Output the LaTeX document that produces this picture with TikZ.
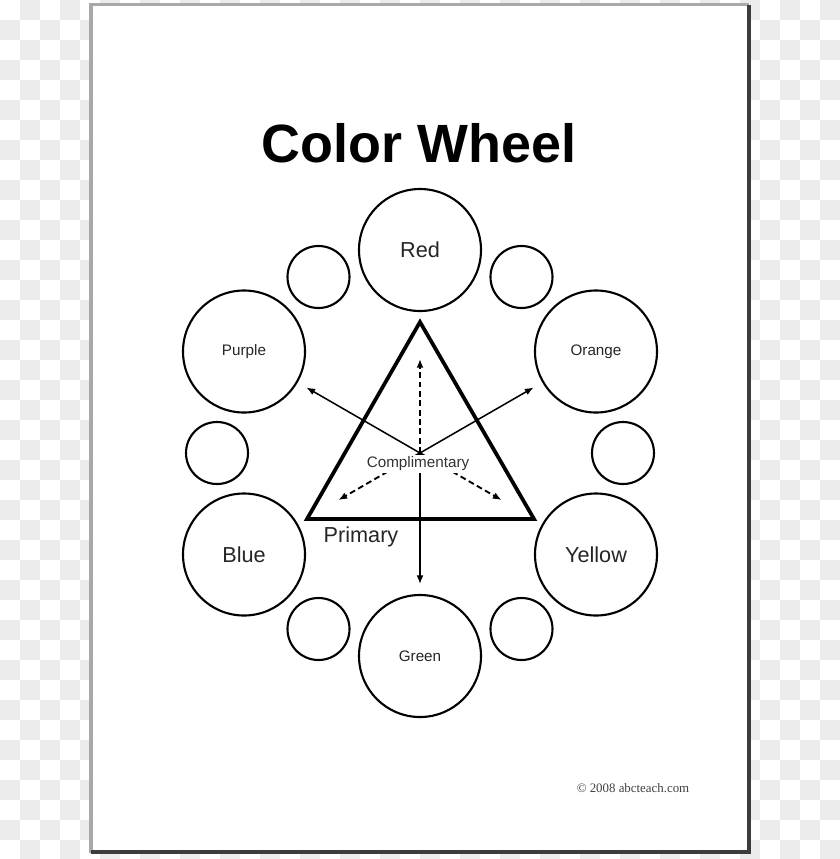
\documentclass[tikz,border=0pt]{standalone}
\usepackage{fontspec}
\setmainfont{Liberation Sans}
\newfontfamily\copyfont{Liberation Serif}
\usepackage{tikz}
\usetikzlibrary{arrows.meta}
\usetikzlibrary{calc}

\definecolor{checkgray}{HTML}{EBEBEB}
\definecolor{edgelight}{HTML}{A8A8A8}
\definecolor{edgedark}{HTML}{3C3C3C}

\tikzset{
  bigc/.style={draw, circle, line width=1.8pt, minimum size=3.66cm, inner sep=0pt,
    font=\fontsize{18.5}{20}\selectfont, text=black!85},
  smallc/.style={draw, circle, line width=1.8pt, minimum size=1.86cm, inner sep=0pt},
  solidarrow/.style={line width=1.3pt, -{Latex[length=2.6mm,width=2.1mm]}},
  dasharrow/.style={line width=1.6pt, dash pattern=on 5pt off 3pt,
    -{Latex[length=2.6mm,width=2.1mm]}}
}

\begin{document}
\begin{tikzpicture}[x=0.03cm, y=-0.03cm]
\useasboundingbox (0,0) rectangle (840,859);

% checkerboard behind the page
\fill[white] (0,0) rectangle (840,859);
\foreach \i in {0,...,41}
  \foreach \j in {0,...,42} {
    \pgfmathtruncatemacro\odd{mod(\i+\j,2)}
    \ifnum\odd=1
      \fill[checkgray] ({20*\i},{20*\j}) rectangle +(20,20);
    \fi
  }

% the page
\fill[white] (90,4) rectangle (750,853);
\draw[edgelight, line width=3pt] (91,853) -- (91,4.5) -- (749,4.5);
\draw[edgedark, line width=3pt] (749,4.5) -- (749,852) -- (91,852);

\node[font=\fontsize{46}{50}\selectfont\bfseries, anchor=base] (title) at (419,162) {Color Wheel};

% big circles
\node[bigc] (red) at (420,250) {Red};
\node[bigc, font=\fontsize{13}{15}\selectfont] (orange) at (596,351.5) {Orange};
\node[bigc] (yellow) at (596,554.5) {Yellow};
\node[bigc, font=\fontsize{13}{15}\selectfont] (green) at (420,656) {Green};
\node[bigc] (blue) at (244,554.5) {Blue};
\node[bigc, font=\fontsize{13}{15}\selectfont] (purple) at (244,351.5) {Purple};

% small circles
\node[smallc] (redorange) at (521.5,277) {};
\node[smallc] (orangeyellow) at (623,453) {};
\node[smallc] (yellowgreen) at (521.5,629) {};
\node[smallc] (greenblue) at (318.5,629) {};
\node[smallc] (bluepurple) at (217,453) {};
\node[smallc] (purplered) at (318.5,277) {};

% triangle of primaries
\draw[line width=3.2pt, line join=miter] (420,322) -- (534,519) -- (307,519) -- cycle;
\coordinate (hub) at (420,453);

% arrows
\draw[solidarrow, shorten >=0.3cm] (hub) -- (purple);
\draw[solidarrow, shorten >=0.3cm] (hub) -- (orange);
\draw[solidarrow, shorten >=0.3cm] (hub) -- (green);
\draw[dasharrow, shorten >=1.41cm] (hub) -- (red);
\draw[dasharrow, shorten >=1.41cm] (hub) -- (blue);
\draw[dasharrow, shorten >=1.41cm] (hub) -- (yellow);

\node[fill=white, inner sep=2pt, text=black!80, font=\fontsize{13}{15}\selectfont] (compl) at (418,464) {Complimentary};
\node[font=\fontsize{18.5}{20}\selectfont, text=black!85] (primary) at (361,537) {Primary};

\node[font=\copyfont\fontsize{11}{13}\selectfont, text=black!75] (copy) at (633,788) {\textcopyright{} 2008 abcteach.com};
\end{tikzpicture}
\end{document}
